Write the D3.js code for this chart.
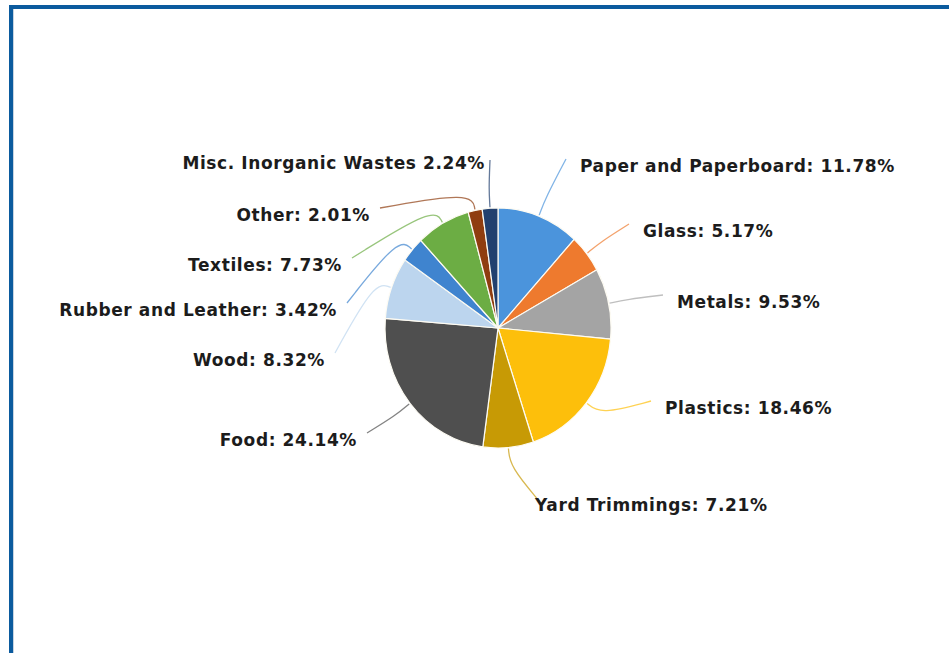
<!DOCTYPE html>
<html>
<head>
<meta charset="utf-8">
<script src="https://cdn.jsdelivr.net/npm/d3@7"></script>
<style>
  html, body { margin: 0; padding: 0; background: #fff; }
  svg { display: block; }
</style>
</head>
<body>
<svg id="chart" width="949" height="653"></svg>
<script>
const categories = [
  "Paper and Paperboard", "Glass", "Metals", "Plastics", "Yard Trimmings",
  "Food", "Wood", "Rubber and Leather", "Textiles", "Other", "Misc. Inorganic Wastes"
];
const shares = [11.78, 5.17, 9.53, 18.46, 7.21, 24.14, 8.32, 3.42, 7.73, 2.01, 2.24];
const sliceColors = [
  "#4b94dc", "#ee7a2e", "#a4a4a4", "#fdbf0b", "#c79a05",
  "#4f4f4f", "#bcd5ee", "#3f84cf", "#6cad44", "#8f3d10", "#22406f"
];

// label placement (layout only)
const labelSpots = [
  [580, 166], [643, 231], [677, 302], [665, 408], [535, 505],
  [357, 440], [325, 360], [337, 310], [342, 265], [370, 215], [485, 163]
];

const width = 949, height = 653;
const cx = 498, cy = 328, rx = 113, ry = 120;

const svg = d3.select("#chart");

// frame
svg.append("rect")
  .attr("x", 9).attr("y", 5).attr("width", width - 9).attr("height", 4)
  .attr("fill", "#0b5b9e");
svg.append("rect")
  .attr("x", 9).attr("y", 5).attr("width", 4).attr("height", height - 5)
  .attr("fill", "#0b5b9e");
svg.append("rect")
  .attr("x", 13).attr("y", 9).attr("width", 1).attr("height", height - 9)
  .attr("fill", "#c8d4e0");

const rows = categories.map((c, i) => ({name: c, value: shares[i], color: sliceColors[i], spot: labelSpots[i]}));

const pie = d3.pie().sort(null).value(d => d.value);
const arcs = pie(rows);
const arc = d3.arc().innerRadius(0).outerRadius(rx);

const pieG = svg.append("g")
  .attr("transform", `translate(${cx},${cy}) scale(1,${ry / rx})`);

pieG.selectAll("path")
  .data(arcs).enter()
  .append("path")
  .attr("d", arc)
  .attr("fill", d => d.data.color)
  .attr("stroke", "#fdfbf3")
  .attr("stroke-width", 1.2)
  .attr("vector-effect", "non-scaling-stroke");

function edge(a, r) {
  return [cx + r * Math.sin(a), cy - r * (ry / rx) * Math.cos(a)];
}

const leader = d3.line().curve(d3.curveBasis);

svg.append("g").selectAll("path")
  .data(arcs).enter()
  .append("path")
  .attr("d", d => {
    let mid = (d.startAngle + d.endAngle) / 2;
    let [lx, ly] = d.data.spot;
    let end;
    if (Math.abs(Math.sin(mid)) < 0.1) end = [lx + 5, ly - 3];
    else if (Math.sin(mid) > 0) end = [lx - 14, ly - 7];
    else end = [lx + 10, ly - 7];
    return leader([edge(mid, rx + 1), edge(mid, rx + 18), end]);
  })
  .attr("fill", "none")
  .attr("stroke", d => d.data.color)
  .attr("stroke-width", 1.3)
  .attr("opacity", 0.7);

svg.append("g").selectAll("text")
  .data(arcs).enter()
  .append("text")
  .attr("x", d => d.data.spot[0])
  .attr("y", d => d.data.spot[1])
  .attr("dy", "0.35em")
  .attr("text-anchor", d => Math.sin((d.startAngle + d.endAngle) / 2) >= 0 ? "start" : "end")
  .attr("font-family", "'DejaVu Sans', Verdana, sans-serif")
  .attr("font-weight", "bold")
  .attr("font-size", 17)
  .attr("letter-spacing", 0.6)
  .attr("fill", "#1c1c1c")
  .text(d => d.data.name === "Misc. Inorganic Wastes"
    ? `${d.data.name} ${d.data.value.toFixed(2)}%`
    : `${d.data.name}: ${d.data.value.toFixed(2)}%`);
</script>
</body>
</html>
